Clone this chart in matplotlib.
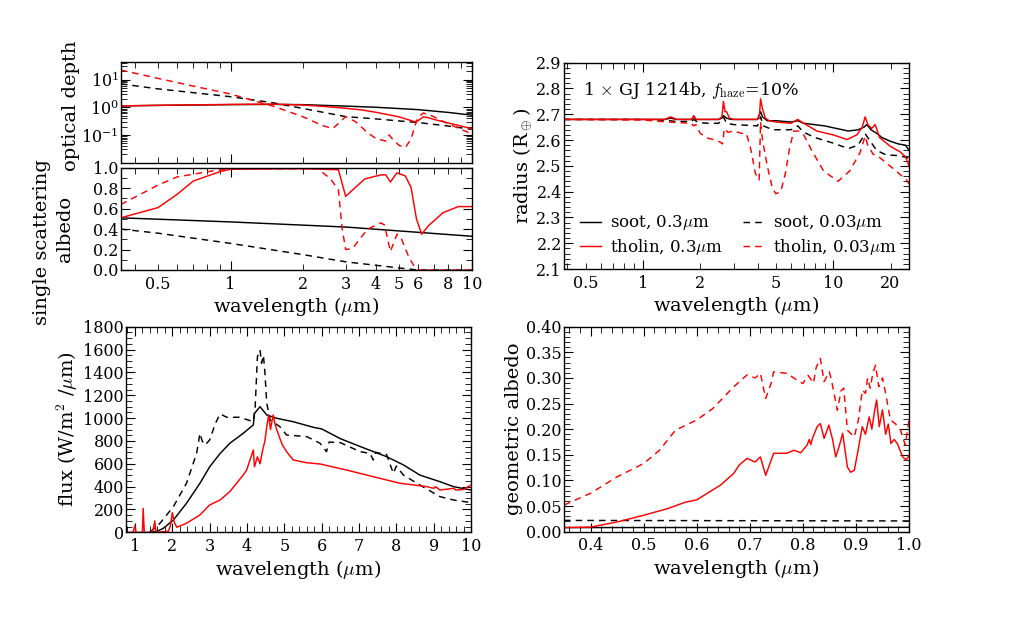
import matplotlib
matplotlib.use("Agg")
import matplotlib.pyplot as plt
from matplotlib.ticker import AutoMinorLocator, LogLocator, FixedLocator, FixedFormatter, NullFormatter

plt.rcParams['font.family'] = ['DejaVu Serif']
plt.rcParams['mathtext.fontset'] = 'dejavuserif'
plt.rcParams['xtick.direction'] = 'in'
plt.rcParams['ytick.direction'] = 'in'
plt.rcParams['xtick.top'] = True
plt.rcParams['ytick.right'] = True
plt.rcParams['xtick.major.size'] = 6.5
plt.rcParams['ytick.major.size'] = 6.5
plt.rcParams['xtick.minor.size'] = 4
plt.rcParams['ytick.minor.size'] = 4
plt.rcParams['xtick.minor.visible'] = True
plt.rcParams['ytick.minor.visible'] = True
plt.rcParams['axes.linewidth'] = 1.0

# ---------------- data ----------------
# optical depth
od_wl = [0.35, 0.5, 1, 1.5, 2, 3, 4, 6, 8, 10]
od_soot_03 = [1.12, 1.17, 1.24, 1.27, 1.24, 1.1, 1.0, 0.82, 0.65, 0.52]
od_soot_003 = [7.0, 4.6, 2.4, 1.45, 0.9, 0.46, 0.38, 0.28, 0.21, 0.16]
od_thol_03_wl = [0.35, 0.5, 1, 1.5, 2, 2.5, 3, 3.5, 4, 5, 5.8, 6.0, 6.3, 6.6, 7, 8, 10]
od_thol_03 = [1.12, 1.17, 1.27, 1.3, 1.2, 1.05, 0.92, 0.8, 0.66, 0.45, 0.3, 0.33, 0.45, 0.42, 0.36, 0.27, 0.17]
od_thol_003_wl = [0.35, 0.5, 0.7, 1, 1.2, 1.5, 2, 2.4, 2.65, 2.8, 3, 3.3, 3.7, 4, 4.4, 4.55,
                  4.7, 5, 5.3, 5.6, 5.8, 6, 6.3, 6.8, 8, 10]
od_thol_003 = [22, 11, 5.8, 3.0, 1.9, 1.1, 0.45, 0.22, 0.17, 0.26, 0.46, 0.3, 0.12, 0.075, 0.06, 0.1,
               0.07, 0.042, 0.035, 0.07, 0.2, 0.45, 0.62, 0.5, 0.25, 0.11]

# single scattering albedo
ssa_soot_03_wl = [0.35, 1, 3, 10]
ssa_soot_03 = [0.51, 0.47, 0.42, 0.33]
ssa_soot_003_wl = [0.35, 0.5, 1, 2, 3, 5, 6, 10]
ssa_soot_003 = [0.40, 0.36, 0.26, 0.15, 0.08, 0.02, 0.0, 0.0]
ssa_thol_03_wl = [0.35, 0.5, 0.6, 0.7, 0.9, 1, 2, 2.8, 3, 3.6, 4.2, 4.4, 4.6, 4.9, 5.3, 5.6,
                  5.9, 6.2, 6.6, 7.6, 8.8, 10]
ssa_thol_03 = [0.51, 0.61, 0.74, 0.87, 0.96, 0.985, 0.99, 0.98, 0.72, 0.89, 0.93, 0.93, 0.86, 0.95,
               0.92, 0.81, 0.5, 0.35, 0.43, 0.56, 0.62, 0.62]
ssa_thol_003_wl = [0.35, 0.5, 0.6, 0.85, 1, 2.3, 2.6, 2.8, 2.9, 3, 3.2, 3.7, 4.2, 4.35, 4.6,
                   4.9, 5.1, 5.5, 5.9, 10]
ssa_thol_003 = [0.64, 0.83, 0.91, 0.97, 0.99, 0.99, 0.89, 0.78, 0.41, 0.2, 0.21, 0.4, 0.46, 0.44,
                0.18, 0.35, 0.31, 0.12, 0.0, 0.0]

# radius
rad_soot_03_wl = [0.385, 1.0, 1.3, 1.4, 1.5, 1.8, 1.85, 1.9, 2.5, 2.6, 2.65, 2.75, 2.9, 4.0, 4.15,
                  4.25, 4.5, 5, 6, 6.5, 7, 9, 12, 13.5, 14.5, 15, 15.8, 17, 18, 20, 22, 24, 25]
rad_soot_03 = [2.68, 2.68, 2.68, 2.685, 2.68, 2.68, 2.69, 2.68, 2.68, 2.685, 2.695, 2.685, 2.68,
               2.68, 2.71, 2.69, 2.675, 2.675, 2.67, 2.675, 2.665, 2.655, 2.635, 2.64, 2.65, 2.66,
               2.64, 2.625, 2.61, 2.595, 2.585, 2.58, 2.56]
rad_soot_003_wl = [0.385, 1.0, 1.3, 1.5, 1.8, 1.85, 1.95, 2.2, 2.5, 2.65, 2.75, 3.0, 4.0, 4.15, 4.3,
                   4.8, 6.0, 6.5, 7, 8, 10, 12, 13.5, 14.7, 15.5, 16.9, 19, 22, 25]
rad_soot_003 = [2.68, 2.68, 2.677, 2.672, 2.672, 2.68, 2.668, 2.665, 2.665, 2.69, 2.665, 2.66,
                2.655, 2.69, 2.655, 2.64, 2.64, 2.655, 2.63, 2.61, 2.588, 2.567, 2.58, 2.625, 2.6,
                2.56, 2.542, 2.54, 2.53]
rad_thol_03_wl = [0.385, 1.0, 1.3, 1.4, 1.5, 1.8, 1.85, 1.9, 2.5, 2.6, 2.65, 2.7, 2.75, 2.85, 3.0,
                  4.0, 4.1, 4.15, 4.25, 4.4, 4.6, 5.0, 6.0, 6.5, 7.0, 8.2, 10, 11.8, 13.3, 14.2,
                  14.7, 15.2, 15.9, 16.6, 17.5, 20, 22.4, 24, 25]
rad_thol_03 = [2.68, 2.68, 2.68, 2.69, 2.68, 2.68, 2.695, 2.68, 2.68, 2.69, 2.75, 2.71, 2.71, 2.685,
               2.68, 2.68, 2.70, 2.76, 2.72, 2.685, 2.675, 2.67, 2.665, 2.68, 2.665, 2.635, 2.62,
               2.602, 2.62, 2.65, 2.69, 2.66, 2.645, 2.66, 2.61, 2.575, 2.555, 2.535, 2.5]
rad_thol_003_wl = [0.385, 1.0, 1.25, 1.5, 1.8, 1.84, 1.9, 2.0, 2.2, 2.4, 2.55, 2.62, 2.68, 2.8,
                   3.0, 3.3, 3.5, 3.7, 3.9, 4.08, 4.15, 4.25, 4.5, 4.8, 5.0, 5.3, 5.6, 5.9, 6.2,
                   6.6, 7.0, 7.7, 8.9, 10.6, 12.2, 13.8, 14.7, 15.2, 16.2, 17, 18.4, 20.6, 24.3, 25]
rad_thol_003 = [2.68, 2.678, 2.672, 2.668, 2.665, 2.655, 2.66, 2.626, 2.607, 2.6, 2.592, 2.585,
                2.645, 2.63, 2.635, 2.626, 2.625, 2.56, 2.47, 2.445, 2.67, 2.6, 2.5, 2.41, 2.392,
                2.40, 2.47, 2.57, 2.635, 2.635, 2.62, 2.56, 2.48, 2.44, 2.48, 2.55, 2.615, 2.58,
                2.545, 2.54, 2.52, 2.49, 2.445, 2.43]

# flux
flux_soot_03_wl = [1.4, 1.6, 1.76, 2.03, 2.38, 2.74, 3.0, 3.28, 3.54, 3.9, 4.17, 4.2, 4.35, 4.53,
                   4.8, 5.24, 5.78, 6.0, 6.5, 7.0, 7.74, 8.19, 8.63, 9.17, 9.53, 10]
flux_soot_03 = [0, 10, 35, 108, 254, 429, 573, 690, 779, 867, 940, 1040, 1100, 1027, 998, 968, 919,
                905, 820, 755, 662, 590, 501, 443, 400, 370]
flux_soot_003_wl = [1.4, 1.67, 2.03, 2.38, 2.65, 2.74, 2.8, 2.88, 3.0, 3.15, 3.28, 3.46, 3.8, 4.17,
                    4.22, 4.28, 4.35, 4.39, 4.44, 4.48, 4.53, 4.62, 4.88, 5.06, 5.6, 5.96, 6.13,
                    6.2, 6.5, 7.03, 7.3, 7.38, 7.45, 7.74, 7.92, 8.0, 8.19, 8.63, 9.17, 9.53, 10]
flux_soot_003 = [0, 79, 225, 429, 690, 866, 800, 764, 808, 950, 1036, 1007, 1007, 969, 1100, 1538,
                 1596, 1480, 1550, 1400, 1130, 983, 925, 852, 838, 779, 706, 790, 785, 706, 690,
                 633, 700, 680, 516, 580, 501, 414, 312, 283, 260]
flux_thol_03_wl = [0.8, 0.95, 1.0, 1.03, 1.07, 1.15, 1.2, 1.22, 1.25, 1.3, 1.45, 1.5, 1.53, 1.56,
                   1.6, 1.9, 1.95, 2.0, 2.05, 2.12, 2.38, 2.74, 3.0, 3.28, 3.54, 3.9, 3.99, 4.08,
                   4.17, 4.2, 4.28, 4.35, 4.42, 4.48, 4.53, 4.58, 4.63, 4.7, 4.75, 4.8, 4.88, 4.95,
                   5.06, 5.24, 5.6, 5.96, 6.67, 7.38, 8.1, 8.81, 9.0, 9.05, 9.17, 9.53, 9.6, 9.8, 10]
flux_thol_03 = [0, 0, 60, 0, 0, 0, 0, 210, 0, 0, 0, 40, 100, 10, 0, 10, 60, 172, 90, 44, 79, 152,
                239, 283, 356, 502, 545, 633, 720, 574, 661, 600, 720, 800, 925, 1027, 900, 1027,
                950, 896, 823, 764, 706, 633, 609, 598, 545, 487, 429, 400, 385, 400, 370, 385,
                370, 375, 414]

# geometric albedo
ga_soot_wl = [0.35, 1.0]
ga_soot_03 = [0.008, 0.0085]
ga_soot_003 = [0.022, 0.021]
ga_thol_03_wl = [0.35, 0.4, 0.45, 0.5, 0.545, 0.58, 0.6, 0.62, 0.645, 0.67, 0.68, 0.695, 0.71, 0.72,
                 0.73, 0.737, 0.745, 0.77, 0.783, 0.796, 0.808, 0.812, 0.815, 0.818, 0.827, 0.833,
                 0.84, 0.849, 0.856, 0.862, 0.868, 0.875, 0.884, 0.89, 0.897, 0.903, 0.912, 0.918,
                 0.925, 0.93, 0.935, 0.939, 0.944, 0.95, 0.956, 0.961, 0.966, 0.972, 0.978, 0.988,
                 0.995, 1.0]
ga_thol_03 = [0.008, 0.009, 0.019, 0.032, 0.045, 0.058, 0.062, 0.075, 0.091, 0.114, 0.13, 0.143,
              0.136, 0.146, 0.11, 0.13, 0.153, 0.153, 0.159, 0.154, 0.169, 0.18, 0.17, 0.182, 0.205,
              0.211, 0.182, 0.208, 0.18, 0.146, 0.165, 0.192, 0.126, 0.116, 0.12, 0.153, 0.205,
              0.19, 0.224, 0.20, 0.235, 0.257, 0.205, 0.238, 0.19, 0.21, 0.172, 0.18, 0.172, 0.146,
              0.14, 0.149]
ga_thol_003_wl = [0.35, 0.4, 0.45, 0.5, 0.53, 0.56, 0.6, 0.63, 0.67, 0.695, 0.71, 0.72, 0.73, 0.74,
                  0.745, 0.77, 0.79, 0.8, 0.81, 0.82, 0.825, 0.833, 0.84, 0.85, 0.855, 0.865, 0.872,
                  0.877, 0.884, 0.897, 0.905, 0.912, 0.918, 0.922, 0.927, 0.932, 0.937, 0.943,
                  0.95, 0.956, 0.965, 0.975, 0.984, 0.993, 1.0]
ga_thol_003 = [0.052, 0.075, 0.107, 0.133, 0.159, 0.198, 0.218, 0.24, 0.283, 0.306, 0.30, 0.309,
               0.26, 0.289, 0.312, 0.309, 0.295, 0.289, 0.305, 0.29, 0.32, 0.338, 0.293, 0.312,
               0.29, 0.237, 0.275, 0.28, 0.198, 0.185, 0.22, 0.276, 0.27, 0.30, 0.28, 0.31, 0.325,
               0.283, 0.30, 0.27, 0.218, 0.21, 0.198, 0.169, 0.218]

labels = ['soot, 0.3$\\mu$m', 'tholin, 0.3$\\mu$m', 'soot, 0.03$\\mu$m', 'tholin, 0.03$\\mu$m']

# ---------------- figure ----------------
W, H = 1010, 627
fig = plt.figure(figsize=(W / 100, H / 100), dpi=100)


def rect(l, t, r, b):
    return [l / W, 1 - b / H, (r - l) / W, (b - t) / H]


LW = 1.05
DASH = (4.5, 3.5)
TICK_FS = 11.5
LAB_FS = 14
XPAD = 4
YPAD = 1.5

ax_od = fig.add_axes(rect(120.7, 61.7, 471.7, 163.3))
ax_ssa = fig.add_axes(rect(120.7, 167.7, 471.7, 270))
ax_rad = fig.add_axes(rect(564, 62.7, 909, 269))
ax_flux = fig.add_axes(rect(126, 326.7, 471, 532.3))
ax_ga = fig.add_axes(rect(564, 326.7, 909, 531.7))


def solid(ax, x, y, c):
    return ax.plot(x, y, color=c, lw=LW)[0]


def dashed(ax, x, y, c):
    return ax.plot(x, y, color=c, lw=LW, ls='--', dashes=DASH)[0]


def xlab(ax):
    ax.set_xlabel('wavelength ($\\mu$m)', fontsize=LAB_FS, labelpad=2, math_fontfamily='cm')


def flab(x, y, s):
    fig.text(x / W, 1 - y / H, s, rotation=90, ha='center', va='center', fontsize=LAB_FS,
             math_fontfamily='cm')


# optical depth
solid(ax_od, od_wl, od_soot_03, 'k')
dashed(ax_od, od_wl, od_soot_003, 'k')
solid(ax_od, od_thol_03_wl, od_thol_03, 'r')
dashed(ax_od, od_thol_003_wl, od_thol_003, 'r')
ax_od.set_xscale('log')
ax_od.set_yscale('log')
ax_od.set_xlim(0.35, 10)
ax_od.set_ylim(0.0095, 44)
ax_od.yaxis.set_major_locator(FixedLocator([0.1, 1, 10]))
ax_od.yaxis.set_major_formatter(FixedFormatter(['$10^{-1}$', '$10^{0}$', '$10^{1}$']))
ax_od.yaxis.set_minor_locator(LogLocator(base=10, subs=range(2, 10), numticks=20))
ax_od.yaxis.set_minor_formatter(NullFormatter())

# ssa
solid(ax_ssa, ssa_soot_03_wl, ssa_soot_03, 'k')
dashed(ax_ssa, ssa_soot_003_wl, ssa_soot_003, 'k')
solid(ax_ssa, ssa_thol_03_wl, ssa_thol_03, 'r')
dashed(ax_ssa, ssa_thol_003_wl, ssa_thol_003, 'r')
ax_ssa.set_xscale('log')
ax_ssa.set_xlim(0.35, 10)
ax_ssa.set_ylim(0, 1.0)
ax_ssa.set_yticks([0, 0.2, 0.4, 0.6, 0.8, 1.0])
ax_ssa.set_yticklabels(['0.0', '0.2', '0.4', '0.6', '0.8', '1.0'])
ax_ssa.yaxis.set_minor_locator(AutoMinorLocator(2))
xlab(ax_ssa)

# left labels of the stacked panels
flab(71, 106, 'optical depth')
flab(65, 229, 'albedo')
flab(42, 242, 'single scattering')

for ax in (ax_od, ax_ssa):
    ax.xaxis.set_major_locator(FixedLocator([1, 10]))
    ax.xaxis.set_minor_locator(FixedLocator([0.4, 0.5, 0.6, 0.7, 0.8, 0.9, 2, 3, 4, 5, 6, 7, 8, 9]))
ax_od.xaxis.set_major_formatter(NullFormatter())
ax_od.xaxis.set_minor_formatter(NullFormatter())
ax_ssa.xaxis.set_major_formatter(FixedFormatter(['1', '10']))
ax_ssa.xaxis.set_minor_formatter(FixedFormatter(['', '0.5', '', '', '', '', '2', '3', '4', '5', '6', '', '8', '']))

# radius
h1 = solid(ax_rad, rad_soot_03_wl, rad_soot_03, 'k')
h3 = dashed(ax_rad, rad_soot_003_wl, rad_soot_003, 'k')
h2 = solid(ax_rad, rad_thol_03_wl, rad_thol_03, 'r')
h4 = dashed(ax_rad, rad_thol_003_wl, rad_thol_003, 'r')
ax_rad.set_xscale('log')
ax_rad.set_xlim(0.385, 25)
ax_rad.set_ylim(2.1, 2.9)
ax_rad.set_yticks([2.1, 2.2, 2.3, 2.4, 2.5, 2.6, 2.7, 2.8, 2.9])
ax_rad.yaxis.set_minor_locator(AutoMinorLocator(5))
ax_rad.xaxis.set_major_locator(FixedLocator([1, 10]))
ax_rad.xaxis.set_major_formatter(FixedFormatter(['1', '10']))
rad_minor = [0.4, 0.5, 0.6, 0.7, 0.8, 0.9, 2, 3, 4, 5, 6, 7, 8, 9, 20]
ax_rad.xaxis.set_minor_locator(FixedLocator(rad_minor))
ax_rad.xaxis.set_minor_formatter(FixedFormatter(['', '0.5', '', '', '', '', '2', '', '', '5', '', '', '', '', '20']))
ax_rad.set_ylabel('radius (R$_\\oplus$)', fontsize=LAB_FS, labelpad=2, math_fontfamily='cm')
xlab(ax_rad)
ax_rad.text(0.056, 0.843, '1 $\\times$ GJ 1214b, $f_{\\rm haze}$=10%', transform=ax_rad.transAxes,
            fontsize=12.5, va='baseline', ha='left', math_fontfamily='cm')
leg = ax_rad.legend([h1, h2, h3, h4], labels, loc='lower left', ncol=2, frameon=False,
                    fontsize=12, handlelength=1.26, handletextpad=0.55, columnspacing=1.2,
                    labelspacing=0.25, borderpad=0, borderaxespad=0,
                    bbox_to_anchor=(0.046, 0.06))
for t in leg.get_texts():
    t.set_math_fontfamily('cm')

# flux
solid(ax_flux, flux_soot_03_wl, flux_soot_03, 'k')
dashed(ax_flux, flux_soot_003_wl, flux_soot_003, 'k')
solid(ax_flux, flux_thol_03_wl, flux_thol_03, 'r')
ax_flux.set_xlim(0.76, 10)
ax_flux.set_ylim(0, 1800)
ax_flux.set_xticks(range(1, 11))
ax_flux.set_yticks(range(0, 1801, 200))
ax_flux.xaxis.set_minor_locator(AutoMinorLocator(5))
ax_flux.yaxis.set_minor_locator(AutoMinorLocator(4))
ax_flux.set_ylabel('flux (W/m$^2$ /$\\mu$m)', fontsize=LAB_FS, labelpad=2, math_fontfamily='cm')
xlab(ax_flux)

# geometric albedo
solid(ax_ga, ga_soot_wl, ga_soot_03, 'k')
dashed(ax_ga, ga_soot_wl, ga_soot_003, 'k')
solid(ax_ga, ga_thol_03_wl, ga_thol_03, 'r')
dashed(ax_ga, ga_thol_003_wl, ga_thol_003, 'r')
ax_ga.set_xlim(0.35, 1.0)
ax_ga.set_ylim(0, 0.40)
ax_ga.set_xticks([0.4, 0.5, 0.6, 0.7, 0.8, 0.9, 1.0])
ax_ga.set_yticks([0, 0.05, 0.1, 0.15, 0.2, 0.25, 0.3, 0.35, 0.4])
ax_ga.set_yticklabels(['0.00', '0.05', '0.10', '0.15', '0.20', '0.25', '0.30', '0.35', '0.40'])
ax_ga.xaxis.set_minor_locator(AutoMinorLocator(5))
ax_ga.yaxis.set_minor_locator(AutoMinorLocator(5))
ax_ga.set_ylabel('geometric albedo', fontsize=LAB_FS, labelpad=2)
xlab(ax_ga)

for ax in (ax_od, ax_ssa, ax_rad, ax_flux, ax_ga):
    ax.tick_params(which='both', top=True, right=True, direction='in', labelsize=TICK_FS)
    ax.tick_params(axis='x', which='both', pad=XPAD)
    ax.tick_params(axis='y', which='both', pad=YPAD)

fig.savefig('out.png', dpi=100)
